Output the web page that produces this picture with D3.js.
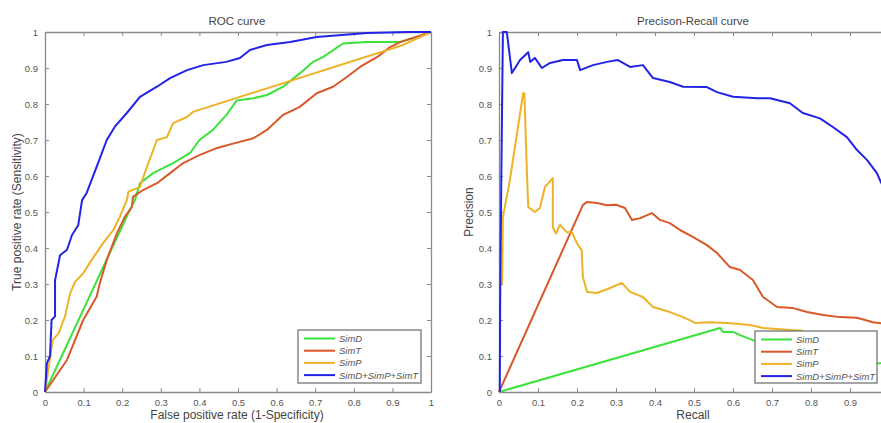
<!DOCTYPE html>
<html><head><meta charset="utf-8">
<script src="https://cdn.jsdelivr.net/npm/d3@7"></script>
<style>
body{margin:0;background:#fff;}
svg{display:block;font-family:"Liberation Sans",Arial,sans-serif;}
</style></head>
<body><svg id="c" width="881" height="423"></svg>
<script>
// ---------- data ----------
const seriesNames = ["SimD","SimT","SimP","SimD+SimP+SimT"];
const seriesColors = ["#3be23b","#d9582a","#edb227","#2323e6"];
const tickValues = [0,0.1,0.2,0.3,0.4,0.5,0.6,0.7,0.8,0.9,1];

// ROC curves: [FPR, TPR]
const rocSimD = [[0,0],[0.216,0.497],[0.233,0.533],[0.246,0.58],[0.28,0.608],[0.332,0.636],[0.376,0.664],[0.40,0.70],[0.435,0.728],[0.47,0.77],[0.497,0.81],[0.54,0.816],[0.575,0.825],[0.617,0.848],[0.66,0.885],[0.694,0.917],[0.72,0.93],[0.772,0.968],[0.834,0.972],[0.92,0.972],[0.963,0.986],[1,1]];
const rocSimT = [[0,0],[0.057,0.089],[0.099,0.2],[0.134,0.265],[0.142,0.302],[0.16,0.367],[0.186,0.44],[0.207,0.487],[0.225,0.514],[0.228,0.542],[0.254,0.561],[0.29,0.58],[0.324,0.608],[0.358,0.636],[0.40,0.658],[0.446,0.678],[0.487,0.69],[0.54,0.705],[0.575,0.728],[0.617,0.77],[0.66,0.792],[0.704,0.83],[0.746,0.848],[0.782,0.875],[0.816,0.903],[0.86,0.93],[0.894,0.958],[0.92,0.972],[0.972,0.99],[1,1]];
const rocSimP = [[0,0],[0.02,0.144],[0.035,0.163],[0.052,0.21],[0.065,0.274],[0.078,0.306],[0.099,0.33],[0.121,0.367],[0.15,0.413],[0.177,0.45],[0.194,0.487],[0.212,0.533],[0.216,0.556],[0.246,0.57],[0.264,0.625],[0.29,0.70],[0.316,0.708],[0.332,0.747],[0.368,0.764],[0.383,0.778],[0.928,0.964],[1,1]];
const rocAll = [[0,0],[0.005,0.08],[0.013,0.1],[0.017,0.2],[0.026,0.21],[0.026,0.31],[0.039,0.38],[0.057,0.395],[0.07,0.436],[0.086,0.463],[0.096,0.533],[0.108,0.553],[0.134,0.626],[0.16,0.70],[0.181,0.737],[0.212,0.775],[0.246,0.82],[0.29,0.848],[0.324,0.872],[0.368,0.894],[0.41,0.908],[0.47,0.917],[0.505,0.928],[0.531,0.95],[0.575,0.964],[0.635,0.972],[0.704,0.986],[0.834,0.997],[0.94,1],[1,1]];

// Precision-Recall curves: [Recall, Precision]
const prSimD = [[0,0],[0.567,0.178],[0.574,0.167],[0.6,0.167],[0.618,0.158],[0.651,0.144],[0.7,0.132],[0.8,0.112],[0.9,0.092],[0.969,0.08],[1,0.08]];
const prSimT = [[0,0],[0.215,0.519],[0.226,0.528],[0.251,0.525],[0.277,0.519],[0.3,0.52],[0.323,0.511],[0.341,0.478],[0.362,0.483],[0.392,0.497],[0.413,0.478],[0.438,0.469],[0.464,0.45],[0.497,0.431],[0.533,0.408],[0.559,0.386],[0.592,0.347],[0.618,0.339],[0.651,0.311],[0.677,0.264],[0.713,0.236],[0.754,0.233],[0.79,0.222],[0.831,0.214],[0.874,0.208],[0.918,0.206],[0.959,0.194],[1,0.188]];
const prSimP = [[0.008,0.3],[0.01,0.486],[0.028,0.589],[0.062,0.83],[0.065,0.83],[0.072,0.597],[0.075,0.514],[0.092,0.5],[0.105,0.511],[0.118,0.57],[0.138,0.594],[0.138,0.458],[0.146,0.44],[0.156,0.464],[0.174,0.444],[0.187,0.444],[0.2,0.413],[0.212,0.394],[0.215,0.32],[0.226,0.278],[0.251,0.275],[0.285,0.289],[0.315,0.303],[0.336,0.278],[0.369,0.264],[0.395,0.236],[0.438,0.222],[0.472,0.208],[0.503,0.192],[0.541,0.194],[0.585,0.192],[0.644,0.186],[0.677,0.178],[0.746,0.172],[0.78,0.17]];
const prAll = [[0.002,0],[0.003,0.25],[0.006,0.6],[0.01,1.0],[0.02,1.0],[0.033,0.886],[0.054,0.922],[0.075,0.944],[0.08,0.917],[0.092,0.928],[0.11,0.9],[0.131,0.914],[0.164,0.922],[0.19,0.922],[0.2,0.922],[0.208,0.894],[0.241,0.908],[0.277,0.917],[0.305,0.922],[0.336,0.903],[0.369,0.908],[0.395,0.872],[0.438,0.861],[0.472,0.848],[0.533,0.847],[0.559,0.833],[0.6,0.82],[0.662,0.816],[0.695,0.816],[0.746,0.802],[0.779,0.775],[0.823,0.76],[0.856,0.736],[0.892,0.708],[0.918,0.672],[0.944,0.644],[0.969,0.608],[0.979,0.583],[1,0.54]];

// ---------- drawing ----------
const svg = d3.select("#c");
const axisColor = "#8a8a8a", textColor = "#555";

function panel(cfg){
  const x = d3.scaleLinear().domain([0,1]).range([cfg.x0, cfg.x1]);
  const y = d3.scaleLinear().domain([0,1]).range([cfg.y0, cfg.y1]);
  const g = svg.append("g");
  g.append("rect").attr("x",cfg.x0).attr("y",cfg.y1).attr("width",cfg.x1-cfg.x0).attr("height",cfg.y0-cfg.y1).attr("fill","#fff");
  const fmt = d3.format("~g");
  const xFmt = d => (d > cfg.maxXLabel ? "" : fmt(d));
  const ax = g.append("g").attr("transform",`translate(0,${cfg.y0})`)
    .call(d3.axisBottom(x).tickValues(tickValues).tickFormat(xFmt).tickSizeInner(-4).tickSizeOuter(0).tickPadding(7));
  const ay = g.append("g").attr("transform",`translate(${cfg.x0},0)`)
    .call(d3.axisLeft(y).tickValues(tickValues).tickFormat(fmt).tickSizeInner(-4).tickSizeOuter(0).tickPadding(7));
  const axT = g.append("g").attr("transform",`translate(0,${cfg.y1})`)
    .call(d3.axisTop(x).tickValues(tickValues).tickFormat("").tickSizeInner(-4).tickSizeOuter(0));
  const ayR = g.append("g").attr("transform",`translate(${cfg.x1},0)`)
    .call(d3.axisRight(y).tickValues(tickValues).tickFormat("").tickSizeInner(-4).tickSizeOuter(0));
  [ax,ay,axT,ayR].forEach(a=>{
    a.selectAll("path").attr("stroke",axisColor).attr("stroke-width",1.3);
    a.selectAll("line").attr("stroke",axisColor);
    a.selectAll("text").attr("fill",textColor).attr("font-size",9.5).attr("font-family","Liberation Sans, Arial, sans-serif");
  });
  const line = d3.line().x(d=>x(d[0])).y(d=>y(d[1]));
  cfg.series.forEach((s,i)=>{
    g.append("path").datum(s).attr("d",line).attr("fill","none")
      .attr("stroke",seriesColors[i]).attr("stroke-width",2).attr("stroke-linejoin","round");
  });
  g.append("text").attr("x",cfg.titleX).attr("y",25).attr("text-anchor","middle")
    .attr("font-size",11.5).attr("fill","#444").text(cfg.title);
  g.append("text").attr("x",cfg.titleX).attr("y",418.5).attr("text-anchor","middle")
    .attr("font-size",12).attr("fill","#444").text(cfg.xLabel);
  g.append("text").attr("transform",`translate(${cfg.yLabelX},${(cfg.y0+cfg.y1)/2}) rotate(-90)`)
    .attr("text-anchor","middle").attr("font-size",12).attr("fill","#444").text(cfg.yLabel);
  const L = cfg.legend;
  const lg = g.append("g");
  lg.append("rect").attr("x",L.x).attr("y",L.y).attr("width",L.w).attr("height",L.h)
    .attr("fill","#fff").attr("stroke","#6a6a6a").attr("stroke-width",1.2);
  seriesNames.forEach((n,i)=>{
    const yy = L.y + 8.5 + i*12.2;
    lg.append("line").attr("x1",L.x+6).attr("x2",L.x+37).attr("y1",yy).attr("y2",yy)
      .attr("stroke",seriesColors[i]).attr("stroke-width",2);
    lg.append("text").attr("x",L.x+41).attr("y",yy+3.4).attr("font-size",9.5)
      .attr("font-style","italic").attr("fill","#555").text(n);
  });
}

panel({x0:45,x1:431,y0:392,y1:32,title:"ROC curve",titleX:237,maxXLabel:1,
  xLabel:"False positive rate (1-Specificity)",yLabel:"True positive rate (Sensitivity)",yLabelX:21,
  series:[rocSimD,rocSimT,rocSimP,rocAll],legend:{x:298,y:330,w:123,h:53}});
panel({x0:499,x1:889,y0:392,y1:32,title:"Precison-Recall curve",titleX:693,maxXLabel:0.95,
  xLabel:"Recall",yLabel:"Precision",yLabelX:473,
  series:[prSimD,prSimT,prSimP,prAll],legend:{x:755,y:331,w:122,h:52}});
</script></body></html>
